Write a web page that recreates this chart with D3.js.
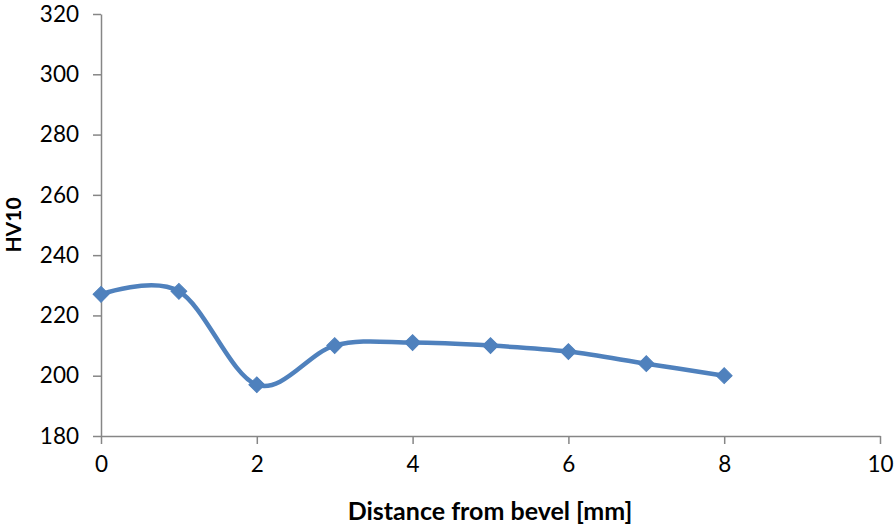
<!DOCTYPE html>
<html>
<head>
<meta charset="utf-8">
<script src="https://cdn.jsdelivr.net/npm/d3@7"></script>
<style>
  html, body { margin: 0; padding: 0; background: #fff; }
  svg { display: block; }
  text { font-family: Lato, "Open Sans", sans-serif; fill: #000; }
</style>
</head>
<body>
<svg id="chart" width="895" height="529"></svg>
<script>
// Hardness profile across the bevel
const distances = [0, 1, 2, 3, 4, 5, 6, 7, 8];
const hardness = [227, 228, 197, 210, 211, 210, 208, 204, 200];
const xTicks = [0, 2, 4, 6, 8, 10];
const yTicks = [180, 200, 220, 240, 260, 280, 300, 320];
const xTitle = "Distance from bevel [mm]";
const yTitle = "HV10";

const svg = d3.select("#chart");
const margin = { left: 101, right: 15, top: 14, bottom: 93 };
const W = 895, H = 529;

const x = d3.scaleLinear().domain([0, 10]).range([margin.left, W - margin.right]);
const y = d3.scaleLinear().domain([180, 320]).range([H - margin.bottom, margin.top]);

const axisColor = "#868686";

const gx = svg.append("g")
  .attr("transform", `translate(0,${y(180)})`)
  .call(d3.axisBottom(x).tickValues(xTicks).tickSize(8).tickPadding(12).tickSizeOuter(0));
const gy = svg.append("g")
  .attr("transform", `translate(${x(0)},0)`)
  .call(d3.axisLeft(y).tickValues(yTicks).tickSize(8).tickPadding(14).tickSizeOuter(0));

[gx, gy].forEach(g => {
  g.select(".domain").attr("stroke", axisColor).attr("stroke-width", 1.5);
  g.selectAll(".tick line").attr("stroke", axisColor).attr("stroke-width", 1.5);
  g.selectAll(".tick text").attr("font-size", 22.5).attr("font-family", "Lato, sans-serif").attr("fill", "#000");
});

const pts = distances.map((d, i) => [d, hardness[i]]);

svg.append("path")
  .datum(pts)
  .attr("fill", "none")
  .attr("stroke", "#4F81BD")
  .attr("stroke-width", 4.5)
  .attr("stroke-linejoin", "round")
  .attr("d", d3.line().x(d => x(d[0])).y(d => y(d[1])).curve(d3.curveCardinal.tension(0)));

const diamond = d3.symbol().type(d3.symbolSquare).size(125);
svg.append("g").selectAll("path")
  .data(pts)
  .join("path")
  .attr("d", diamond)
  .attr("transform", d => `translate(${x(d[0])},${y(d[1])}) rotate(45)`)
  .attr("fill", "#4F81BD")
  .attr("stroke", "#4F81BD")
  .attr("stroke-width", 1);

svg.append("text")
  .attr("x", 490)
  .attr("y", 520)
  .attr("text-anchor", "middle")
  .attr("font-size", 25)
  .attr("font-weight", "bold")
  .text(xTitle);

svg.append("text")
  .attr("transform", `translate(21,${(y(180) + y(320)) / 2}) rotate(-90)`)
  .attr("text-anchor", "middle")
  .attr("font-size", 21)
  .attr("font-weight", "bold")
  .text(yTitle);
</script>
</body>
</html>
